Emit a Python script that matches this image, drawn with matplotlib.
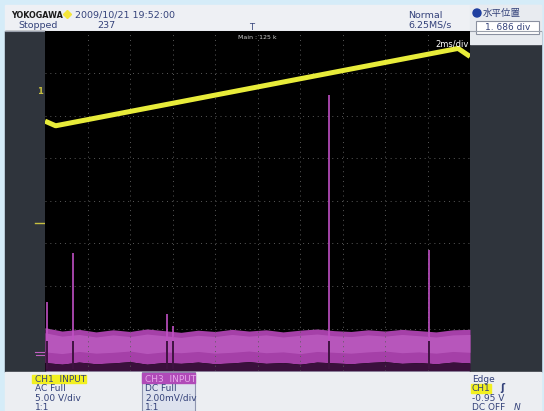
import numpy as np
import matplotlib
matplotlib.use("Agg")
import matplotlib.pyplot as plt
from matplotlib.patches import Rectangle, Circle

plt.rcParams['font.family'] = ['DejaVu Sans', 'Noto Sans CJK JP']

# ==============================
# Data (in divisions)
# ==============================
# CH1 (yellow) ramp trace
ch1_t = [0.0, 0.25, 9.72, 10.0]
ch1_v = [1.88, 1.77, 3.59, 3.40]

# CH3 (magenta) noise band envelope
band_t      = [0.0, 0.4, 0.8, 1.2, 1.6, 2.0, 2.4, 2.8, 3.2, 3.6, 4.0, 4.4, 4.8, 5.2,
               5.6, 6.0, 6.4, 6.8, 7.2, 7.6, 8.0, 8.4, 8.8, 9.2, 9.6, 10.0]
band_top    = [-2.98, -3.06, -3.02, -3.08, -3.03, -3.07, -3.01, -3.05, -3.09, -3.04,
               -3.07, -3.02, -3.06, -3.03, -3.08, -3.04, -3.01, -3.05, -3.07, -3.03,
               -3.06, -3.02, -3.05, -3.08, -3.03, -3.02]
band_bottom = [-3.80, -3.84, -3.79, -3.83, -3.81, -3.78, -3.84, -3.80, -3.82, -3.79,
               -3.83, -3.81, -3.78, -3.82, -3.80, -3.84, -3.79, -3.81, -3.83, -3.80,
               -3.78, -3.82, -3.80, -3.83, -3.79, -3.81]

# CH3 spikes
spike_t   = [0.05, 0.66, 2.87, 3.01, 6.68, 9.04]
spike_top = [-2.37, -1.22, -2.65, -2.95, 2.49, -1.15]

# screen texts
header_left  = ["2009/10/21 19:52:00", "237"]
header_right = ["Normal", "6.25MS/s"]
ch1_info = ["CH1  INPUT", "AC Full", "5.00 V/div", "1:1"]
ch3_info = ["CH3  INPUT", "DC Full", "2.00mV/div", "1:1"]
trig_info = ["Edge", "CH1", "-0.95 V", "DC OFF"]

TXT = "#34427a"
W, H = 544, 411
fig = plt.figure(figsize=(W / 100, H / 100), dpi=100)
fig.patch.set_facecolor("#d5ecf8")

# background frame in pixel coords
bg = fig.add_axes([0, 0, 1, 1])
bg.set_xlim(0, W)
bg.set_ylim(H, 0)
bg.axis("off")
bg.add_patch(Rectangle((5, 5), 536, 26, color="#eef0f4"))
bg.add_patch(Rectangle((5, 31), 40, 341, color="#2f343c"))
bg.add_patch(Rectangle((470, 31), 71, 341, color="#2f343c"))
bg.add_patch(Rectangle((470, 5), 71, 39, color="#e8ebf0"))
bg.add_patch(Rectangle((5, 372), 536, 39, color="#eceef2"))
bg.plot([5, 541], [31, 31], color="#9aa0ac", lw=0.8)

# header
bg.text(11, 15, "YOKOGAWA", fontsize=5.8, color="#1a1a1a", fontweight="bold", va="center")
bg.plot(67, 14, marker="D", color="#f5e63a", ms=4.5)
bg.text(75, 15, header_left[0], fontsize=6.8, color=TXT, va="center")
bg.text(18, 25, "Stopped", fontsize=6.8, color=TXT, va="center")
bg.text(97, 25, header_left[1], fontsize=6.8, color=TXT, va="center")
bg.text(408, 15, header_right[0], fontsize=6.8, color=TXT, va="center")
bg.text(408, 25, header_right[1], fontsize=6.8, color=TXT, va="center")
bg.text(252, 27, "T", fontsize=6, color=TXT, va="center", ha="center")

# horizontal position panel
bg.add_patch(Circle((477, 13), 4, color="#1f3fa0"))
bg.text(483, 13, "水平位置", fontsize=6.8, color=TXT, va="center",
        family=["Noto Sans CJK JP", "DejaVu Sans"])
bg.add_patch(Rectangle((476, 21), 63, 13, facecolor="white", edgecolor="#8a90a0", lw=0.8))
bg.text(530, 27.5, "1. 686 div", fontsize=6.5, color=TXT, va="center", ha="right")

# bottom panel
bg.add_patch(Rectangle((32, 375), 54, 8, color="#f2f020"))
for i, s in enumerate(ch1_info):
    bg.text(35, 379 + i * 9.5, s, fontsize=6.5, color=TXT, va="center")
bg.add_patch(Rectangle((142, 372), 53, 39, facecolor="#dde2ee", edgecolor="#8f96b0", lw=0.8))
bg.add_patch(Rectangle((142, 373), 53, 10, color="#b04ab8"))
for i, s in enumerate(ch3_info):
    bg.text(145, 379 + i * 9.5, s, fontsize=6.5,
            color="#e6a8ea" if i == 0 else TXT, va="center")
bg.add_patch(Rectangle((471, 384), 20, 9, color="#f2f020"))
for i, s in enumerate(trig_info):
    bg.text(472, 379 + i * 9.5, s, fontsize=6.5, color=TXT, va="center")
bg.text(500, 388, "ʃ", fontsize=7, color=TXT, va="center", fontweight="bold")
bg.text(514, 407, "N", fontsize=6.5, color=TXT, va="center", style="italic")

# channel markers on the left strip
bg.text(40, 92, "1", fontsize=6, color="#c8c040", va="center", ha="center", fontweight="bold")
bg.plot([35, 45], [223, 223], color="#c8c040", lw=1)
bg.plot([35, 45], [352, 352], color="#c060c0", lw=0.8)
bg.plot([36, 44], [355, 355], color="#c060c0", lw=0.8)

# ==============================
# Scope screen
# ==============================
ax = fig.add_axes([45 / W, (H - 371) / H, 425 / W, 340 / H])
ax.set_facecolor("black")
ax.set_xlim(0, 10)
ax.set_ylim(-4, 4)
ax.set_xticks([])
ax.set_yticks([])
for sp in ax.spines.values():
    sp.set_visible(False)

for gx in range(1, 10):
    ax.axvline(gx, color="#5a5a5a", lw=0.7, ls=(0, (1, 4)))
for gy in range(-3, 4):
    ax.axhline(gy, color="#5a5a5a", lw=0.7, ls=(0, (1, 4)))

# CH3 band
ax.fill_between(band_t, band_bottom, band_top, color="#a540a8", lw=0)
ax.fill_between(band_t, [b + 0.25 for b in band_bottom], [t - 0.12 for t in band_top],
                color="#c060c4", lw=0, alpha=0.7)
ax.fill_between(band_t, [-4.0] * len(band_t), band_bottom, color="#3a103c", lw=0)
ax.vlines(spike_t, -3.95, spike_top, color="#c050c4", lw=1.2)
ax.vlines(spike_t, -3.95, -3.3, color="#2a0a2c", lw=1.2)

# CH1 ramp
ax.plot(ch1_t, ch1_v, color="#e8ec3a", lw=3.6, solid_capstyle="butt")

ax.text(5, 3.85, "Main : 125 k", fontsize=4.5, color="#d0d0d0", ha="center", va="center")
ax.text(9.98, 3.7, "2ms/div", fontsize=6, color="white", ha="right", va="center")

fig.savefig("out.png", dpi=100)
